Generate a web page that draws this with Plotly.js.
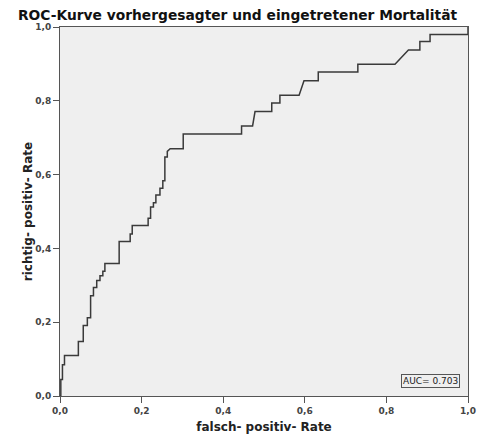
<!DOCTYPE html>
<html>
<head>
<meta charset="utf-8">
<script src="https://cdn.plot.ly/plotly-3.0.1.min.js"></script>
<style>html,body{margin:0;padding:0;background:#fff}#chart{width:490px;height:434px}</style>
</head>
<body>
<div id="chart"></div>
<script>
// ROC curve vertices (1 - specificity, sensitivity)
const fpr = [0,0.002,0.002,0.006,0.006,0.011,0.011,0.045,0.045,0.057,0.057,0.067,0.067,0.075,0.075,0.082,0.082,0.090,0.090,0.098,0.098,0.105,0.105,0.110,0.110,0.145,0.145,0.172,0.172,0.177,0.177,0.216,0.216,0.222,0.222,0.229,0.229,0.235,0.235,0.245,0.245,0.252,0.252,0.257,0.257,0.263,0.263,0.270,0.302,0.302,0.445,0.445,0.472,0.478,0.519,0.519,0.539,0.539,0.586,0.598,0.633,0.633,0.730,0.730,0.821,0.854,0.882,0.882,0.907,0.907,1.0,1.0];
const tpr = [0,0,0.045,0.045,0.085,0.085,0.110,0.110,0.148,0.148,0.191,0.191,0.212,0.212,0.272,0.272,0.294,0.294,0.313,0.313,0.326,0.326,0.338,0.338,0.359,0.359,0.419,0.419,0.439,0.439,0.462,0.462,0.482,0.482,0.512,0.512,0.524,0.524,0.545,0.545,0.563,0.563,0.583,0.583,0.648,0.648,0.663,0.670,0.670,0.710,0.710,0.732,0.732,0.771,0.771,0.794,0.794,0.815,0.815,0.854,0.854,0.878,0.878,0.899,0.899,0.938,0.938,0.961,0.961,0.980,0.980,1.0];
const tickVals = [0,0.2,0.4,0.6,0.8,1.0];
const tickText = ["0,0","0,2","0,4","0,6","0,8","1,0"];
const aucLabel = "AUC= 0.703";
const titleText = "ROC-Kurve vorhergesagter und eingetretener Mortalität";
const xTitle = "falsch- positiv- Rate";
const yTitle = "richtig- positiv- Rate";

const fam = "DejaVu Sans, Verdana, sans-serif";
const axisCommon = {
  range:[0,1], showgrid:false, zeroline:false, showline:true, mirror:true,
  linecolor:"#555", linewidth:1, ticks:"outside", ticklen:6, tickcolor:"#555", tickwidth:1,
  tickvals:tickVals, ticktext:tickText, fixedrange:true,
  tickfont:{family:fam, size:9, color:"#444", weight:"bold"}
};
const data = [{
  x:fpr, y:tpr, type:"scatter", mode:"lines",
  line:{color:"#3a3a3a", width:1.5, shape:"linear"},
  cliponaxis:false, hoverinfo:"skip"
}];
const layout = {
  width:490, height:434,
  margin:{l:60, r:22, t:27, b:37.5},
  paper_bgcolor:"#ffffff", plot_bgcolor:"#efefef",
  showlegend:false,
  title:{text:titleText, font:{family:fam, size:13.8, color:"#111", weight:"bold"},
         xref:"container", yref:"container", x:18/490, xanchor:"left", y:1-15/434, yanchor:"middle"},
  xaxis:Object.assign({}, axisCommon, {
    title:{text:xTitle, font:{family:fam, size:12, color:"#222", weight:"bold"}, standoff:9}
  }),
  yaxis:Object.assign({}, axisCommon, {
    title:{text:yTitle, font:{family:fam, size:12, color:"#222", weight:"bold"}, standoff:0}
  }),
  annotations:[{
    xref:"x", yref:"y", x:0.98, y:0.022, xanchor:"right", yanchor:"bottom",
    text:aucLabel, showarrow:false,
    font:{family:fam, size:9, color:"#222"},
    bordercolor:"#555", borderwidth:1, borderpad:1, bgcolor:"#efefef"
  }]
};
Plotly.newPlot("chart", data, layout, {displayModeBar:false, staticPlot:true});
</script>
</body>
</html>
